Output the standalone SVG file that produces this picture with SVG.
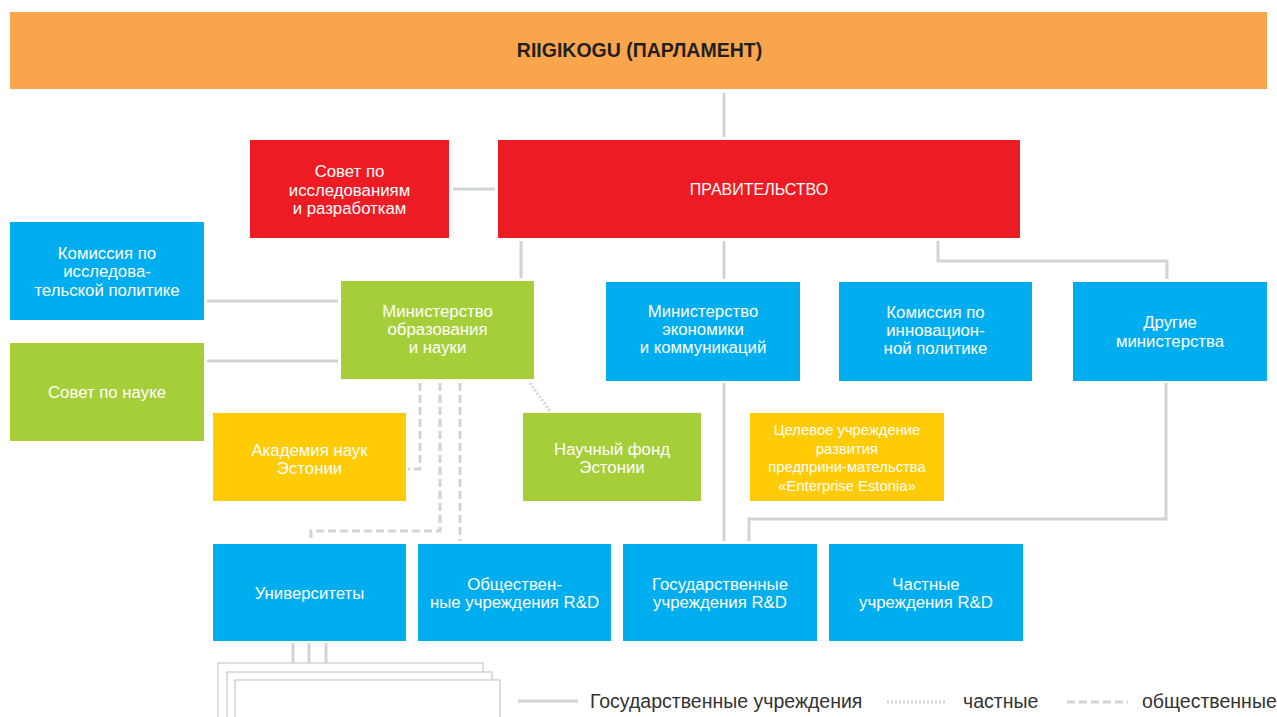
<svg xmlns="http://www.w3.org/2000/svg" width="1277" height="717" viewBox="0 0 1277 717">
<style>
text{font-family:"Liberation Sans",Arial,sans-serif;font-size:16.8px;fill:#fff;text-anchor:middle}
.t{font-size:19.5px;font-weight:bold;fill:#231F20}
.s{font-size:14.8px}
.lg{font-size:19.5px;fill:#333;text-anchor:start}
.or{fill:#F9A54B}.rd{fill:#ED1C24}.bl{fill:#00AEEF}.gr{fill:#A6CE39}.ye{fill:#FFCB05}
.c{fill:none;stroke:#D1D3D4;stroke-width:3}
.d{fill:none;stroke:#D1D3D4;stroke-width:3;stroke-dasharray:8 4}
.p{fill:none;stroke:#D1D3D4;stroke-width:3;stroke-dasharray:2 2}
.pg{fill:#fff;stroke:#C8C8C8;stroke-width:1.2}
</style>
<rect width="1277" height="717" fill="#fff"/>
<g id="connectors">
<path class="c" d="M724 93V137"/>
<path class="c" d="M453 189H495"/>
<path class="c" d="M521 241V278"/>
<path class="c" d="M724 241V279"/>
<path class="c" d="M938 241V261H1167V279"/>
<path class="c" d="M207 301H338"/>
<path class="c" d="M207 361H338"/>
<path class="c" d="M724 383V541"/>
<path class="c" d="M1166 383V519H749V541"/>
<path class="d" d="M420 383V469H408"/>
<path class="d" d="M440 383V531H311V541"/>
<path class="d" d="M460 383V541"/>
<path class="p" d="M530 383L550 411"/>
<path class="c" d="M293 643V663M309 643V663M326 643V663"/>
</g>
<g id="parliament"><rect class="or" x="10" y="12" width="1257" height="77"/><text class="t" x="639.5" y="57">RIIGIKOGU (ПАРЛАМЕНТ)</text></g>
<g id="council-rd"><rect class="rd" x="250" y="140" width="199" height="98"/><text x="349.5" y="177">Совет по</text><text x="349.5" y="195.5">исследованиям</text><text x="349.5" y="214">и разработкам</text></g>
<g id="government"><rect class="rd" x="498" y="140" width="522" height="98"/><text x="759" y="195" style="font-size:16px">ПРАВИТЕЛЬСТВО</text></g>
<g id="commission-research"><rect class="bl" x="10" y="222" width="194" height="98"/><text x="107" y="259">Комиссия по</text><text x="107" y="277">исследова-</text><text x="107" y="296">тельской политике</text></g>
<g id="council-science"><rect class="gr" x="10" y="343" width="194" height="98"/><text x="107" y="398">Совет по науке</text></g>
<g id="ministry-education"><rect class="gr" x="341" y="281" width="193" height="98"/><text x="437.5" y="317">Министерство</text><text x="437.5" y="335">образования</text><text x="437.5" y="353">и науки</text></g>
<g id="ministry-economy"><rect class="bl" x="606" y="282" width="194" height="99"/><text x="703" y="317">Министерство</text><text x="703" y="335">экономики</text><text x="703" y="353">и коммуникаций</text></g>
<g id="commission-innovation"><rect class="bl" x="839" y="282" width="193" height="99"/><text x="935.5" y="318">Комиссия по</text><text x="935.5" y="336">инновацион-</text><text x="935.5" y="354">ной политике</text></g>
<g id="other-ministries"><rect class="bl" x="1073" y="282" width="194" height="99"/><text x="1170" y="328">Другие</text><text x="1170" y="347">министерства</text></g>
<g id="academy"><rect class="ye" x="213" y="413" width="193" height="88"/><text x="309.5" y="456">Академия наук</text><text x="309.5" y="474">Эстонии</text></g>
<g id="science-fund"><rect class="gr" x="523" y="413" width="178" height="88"/><text x="612" y="455">Научный фонд</text><text x="612" y="473">Эстонии</text></g>
<g id="enterprise-estonia"><rect class="ye" x="750" y="413" width="194" height="88"/><text class="s" x="847" y="435">Целевое учреждение</text><text class="s" x="847" y="454">развития</text><text class="s" x="847" y="472">предприни-мательства</text><text class="s" x="847" y="491">«Enterprise Estonia»</text></g>
<g id="universities"><rect class="bl" x="213" y="544" width="193" height="97"/><text x="309.5" y="599">Университеты</text></g>
<g id="public-rd"><rect class="bl" x="418" y="544" width="193" height="97"/><text x="514.5" y="590">Обществен-</text><text x="514.5" y="608">ные учреждения R&amp;D</text></g>
<g id="state-rd"><rect class="bl" x="623" y="544" width="194" height="97"/><text x="720" y="590">Государственные</text><text x="720" y="608">учреждения R&amp;D</text></g>
<g id="private-rd"><rect class="bl" x="829" y="544" width="194" height="97"/><text x="926" y="590">Частные</text><text x="926" y="608">учреждения R&amp;D</text></g>
<g id="universities-stack">
<rect class="pg" x="218" y="663" width="265" height="60"/>
<rect class="pg" x="227" y="672" width="265" height="60"/>
<rect class="pg" x="235" y="680" width="265" height="60"/>
</g>
<g id="legend">
<path class="c" d="M518 701H578"/>
<text class="lg" x="590" y="708">Государственные учреждения</text>
<path class="p" d="M887 702H946"/>
<text class="lg" x="963" y="708">частные</text>
<path class="d" d="M1067 702H1128"/>
<text class="lg" x="1142" y="708">общественные</text>
</g>
</svg>
